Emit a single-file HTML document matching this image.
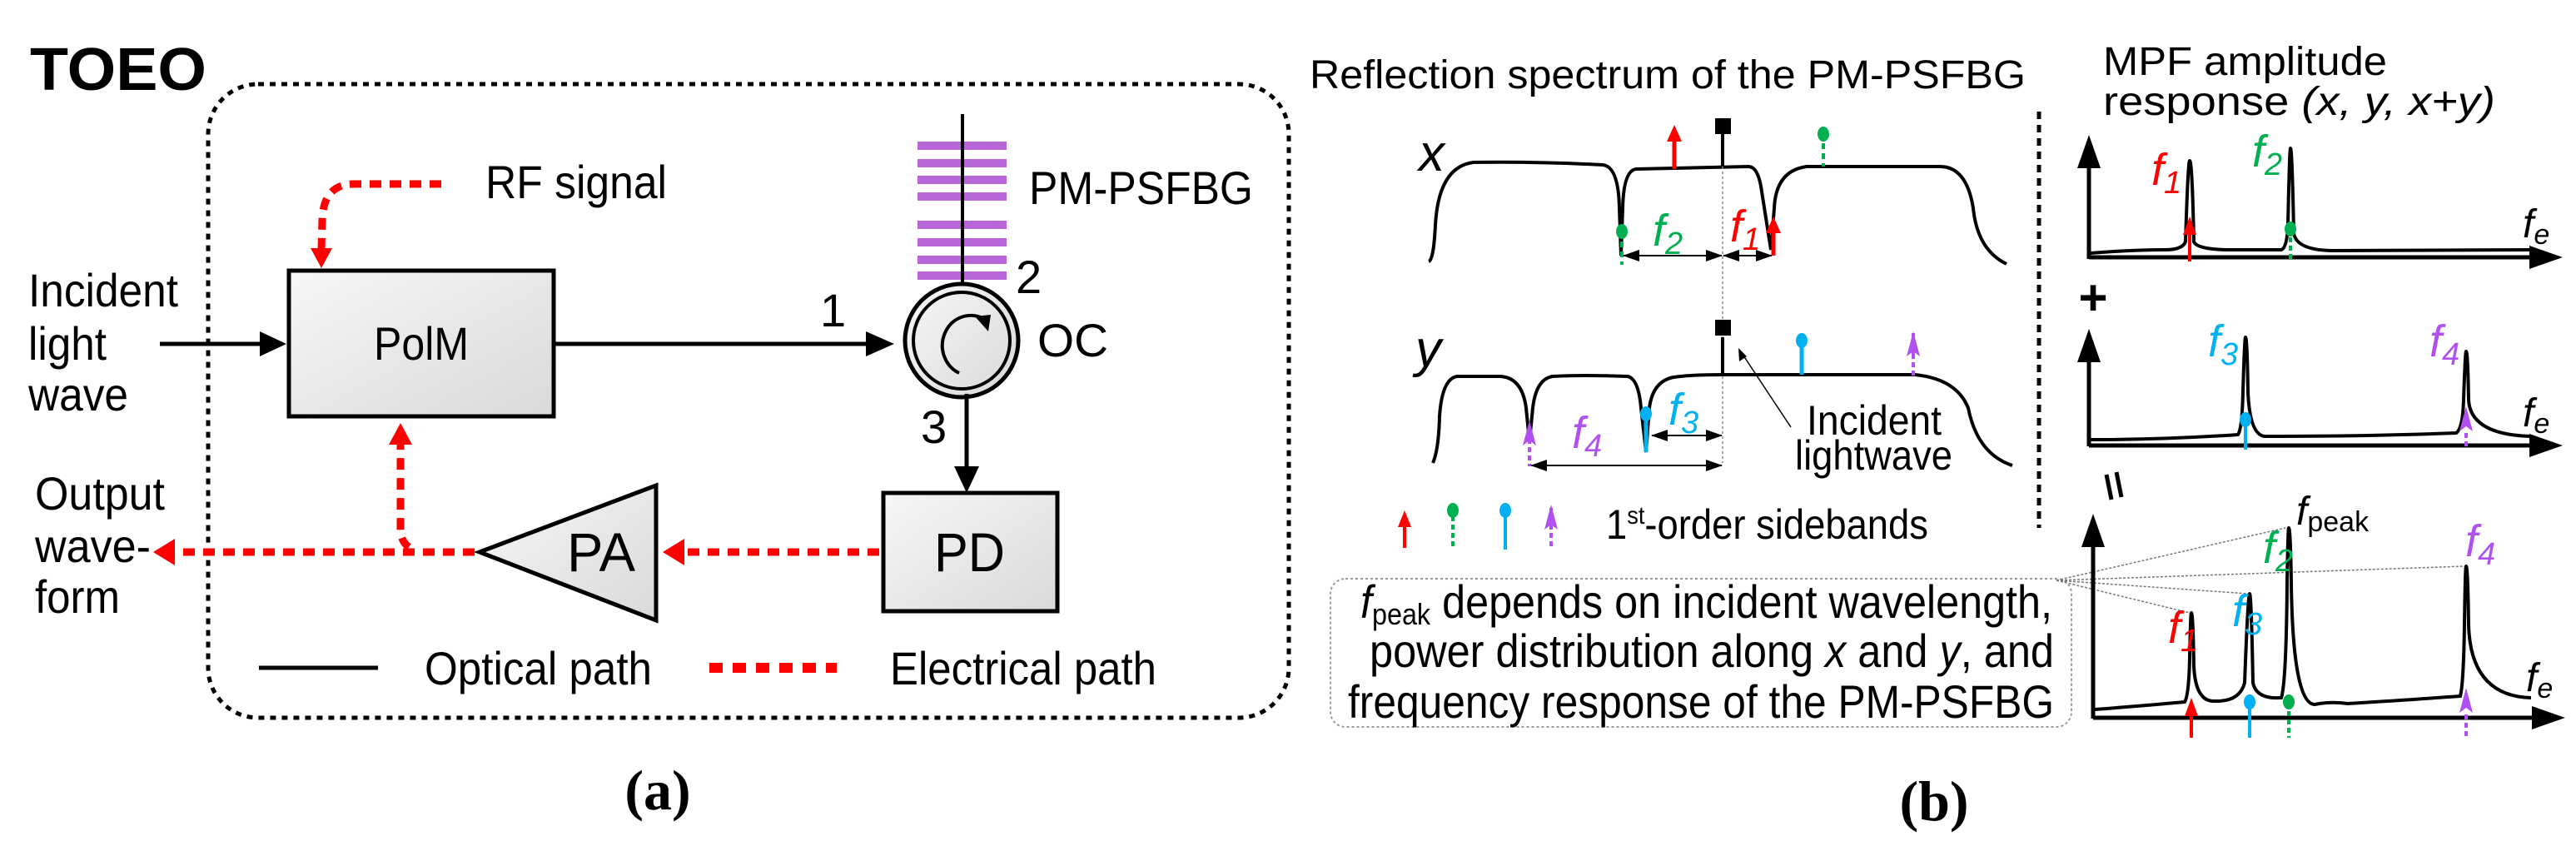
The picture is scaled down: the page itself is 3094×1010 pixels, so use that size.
<!DOCTYPE html>
<html><head><meta charset="utf-8"><style>
html,body{margin:0;padding:0;background:#fff;}
svg{display:block;}
text{font-family:"Liberation Sans",Arial,sans-serif;fill:#000;}
.it{font-style:italic;}
.ser{font-family:"Liberation Serif",serif;font-weight:bold;}
</style></head><body>
<svg width="3094" height="1010" viewBox="0 0 3094 1010" xmlns="http://www.w3.org/2000/svg">
<defs>
<linearGradient id="g" x1="0" y1="0" x2="1" y2="1"><stop offset="0" stop-color="#f7f7f7"/><stop offset="1" stop-color="#d9d9d9"/></linearGradient>
<marker id="dd" markerWidth="20" markerHeight="20" refX="19" refY="10" orient="auto" markerUnits="userSpaceOnUse"><path d="M0,3 L20,10 L0,17 Z" fill="#000"/></marker>
<marker id="ds" markerWidth="20" markerHeight="20" refX="1" refY="10" orient="auto" markerUnits="userSpaceOnUse"><path d="M20,3 L0,10 L20,17 Z" fill="#000"/></marker>
<marker id="ax" markerWidth="40" markerHeight="40" refX="2" refY="20" orient="auto" markerUnits="userSpaceOnUse"><path d="M0,6 L40,20 L0,34 Z" fill="#000"/></marker>
</defs>

<!-- (a) -->
<text x="36" y="108" font-size="72" font-weight="bold" textLength="212" lengthAdjust="spacingAndGlyphs">TOEO</text>
<rect x="250" y="101" width="1298" height="761" rx="60" fill="none" stroke="#000" stroke-width="5" stroke-dasharray="7,7"/>
<text x="583" y="238" font-size="56" textLength="218" lengthAdjust="spacingAndGlyphs">RF signal</text>
<path d="M530,221 L425,221 Q388,221 387,265 L386,300" fill="none" stroke="#f00" stroke-width="9" stroke-dasharray="14,10"/>
<path d="M373,298 L386,322 L399,298 Z" fill="#f00"/>
<rect x="347" y="325" width="318" height="175" fill="url(#g)" stroke="#000" stroke-width="5"/>
<text x="449" y="432" font-size="56" textLength="114" lengthAdjust="spacingAndGlyphs">PolM</text>
<text x="34" y="368" font-size="56" textLength="180" lengthAdjust="spacingAndGlyphs">Incident</text>
<text x="34" y="432" font-size="56" textLength="94" lengthAdjust="spacingAndGlyphs">light</text>
<text x="34" y="493" font-size="56" textLength="120" lengthAdjust="spacingAndGlyphs">wave</text>
<line x1="192" y1="413" x2="318" y2="413" stroke="#000" stroke-width="5"/>
<path d="M312,398 L344,413 L312,428 Z"/>
<line x1="665" y1="413" x2="1046" y2="413" stroke="#000" stroke-width="5"/>
<path d="M1040,398 L1074,413 L1040,428 Z"/>
<text x="985" y="392" font-size="56">1</text>
<g fill="#b865d8"><rect x="1102" y="170" width="107" height="10"/><rect x="1102" y="191" width="107" height="10"/><rect x="1102" y="211" width="107" height="10"/><rect x="1102" y="231" width="107" height="10"/><rect x="1102" y="265" width="107" height="10"/><rect x="1102" y="286" width="107" height="10"/><rect x="1102" y="307" width="107" height="10"/><rect x="1102" y="326" width="107" height="10"/></g>
<line x1="1156" y1="137" x2="1156" y2="345" stroke="#000" stroke-width="4"/>
<text x="1236" y="245" font-size="56" textLength="269" lengthAdjust="spacingAndGlyphs">PM-PSFBG</text>
<text x="1220" y="352" font-size="56">2</text>
<circle cx="1155" cy="409" r="68" fill="url(#g)" stroke="#000" stroke-width="5"/>
<circle cx="1155" cy="409" r="58" fill="none" stroke="#000" stroke-width="4"/>
<path d="M1180,382 A34,36 0 1 0 1152,448" fill="none" stroke="#000" stroke-width="4"/>
<path d="M1171,380 L1190,378 L1187,398 Z"/>
<text x="1246" y="428" font-size="56" textLength="85" lengthAdjust="spacingAndGlyphs">OC</text>
<line x1="1161" y1="473" x2="1161" y2="565" stroke="#000" stroke-width="5"/>
<path d="M1146,560 L1161,592 L1176,560 Z"/>
<text x="1106" y="532" font-size="56">3</text>
<rect x="1061" y="592" width="209" height="142" fill="url(#g)" stroke="#000" stroke-width="5"/>
<text x="1122" y="686" font-size="66" textLength="85" lengthAdjust="spacingAndGlyphs">PD</text>
<line x1="1056" y1="663" x2="820" y2="663" stroke="#f00" stroke-width="9" stroke-dasharray="14,10"/>
<path d="M822,647 L796,663 L822,679 Z" fill="#f00"/>
<path d="M576,663 L788,583 L788,745 Z" fill="url(#g)" stroke="#000" stroke-width="5"/>
<text x="681" y="686" font-size="66" textLength="82" lengthAdjust="spacingAndGlyphs">PA</text>
<line x1="570" y1="663" x2="208" y2="663" stroke="#f00" stroke-width="9" stroke-dasharray="14,10"/>
<path d="M210,647 L184,663 L210,679 Z" fill="#f00"/>
<path d="M491,657 Q481,650 481,635 L481,530" fill="none" stroke="#f00" stroke-width="9" stroke-dasharray="14,10"/>
<path d="M467,534 L481,508 L495,534 Z" fill="#f00"/>
<text x="42" y="612" font-size="56" textLength="156" lengthAdjust="spacingAndGlyphs">Output</text>
<text x="42" y="675" font-size="56" textLength="139" lengthAdjust="spacingAndGlyphs">wave-</text>
<text x="42" y="736" font-size="56" textLength="102" lengthAdjust="spacingAndGlyphs">form</text>
<line x1="311" y1="802" x2="454" y2="802" stroke="#000" stroke-width="5"/>
<text x="510" y="822" font-size="56" textLength="273" lengthAdjust="spacingAndGlyphs">Optical path</text>
<line x1="852" y1="802" x2="1005" y2="802" stroke="#f00" stroke-width="12" stroke-dasharray="16,12"/>
<text x="1069" y="822" font-size="56" textLength="320" lengthAdjust="spacingAndGlyphs">Electrical path</text>
<text x="790" y="972" font-size="68" text-anchor="middle" class="ser">(a)</text>

<!-- (b) -->
<text x="1573" y="106" font-size="48" textLength="860" lengthAdjust="spacingAndGlyphs">Reflection spectrum of the PM-PSFBG</text>
<line x1="2449" y1="134" x2="2449" y2="634" stroke="#000" stroke-width="5" stroke-dasharray="9,7"/>
<text x="2526" y="90" font-size="48" textLength="341" lengthAdjust="spacingAndGlyphs">MPF amplitude</text>
<text x="2526" y="138" font-size="48" textLength="471" lengthAdjust="spacingAndGlyphs">response  <tspan class="it">(x, y, x+y)</tspan></text>

<!-- x spectrum -->
<text x="1704" y="205" font-size="62" class="it">x</text>
<path d="M1716,314 Q1722,312 1724,270 Q1728,200 1770,195 Q1850,194 1925,198 Q1944,200 1945,250 L1947,307 L1949,250 Q1950,205 1965,203 L2100,200 Q2112,200 2116,230 L2127,300 L2131,250 Q2133,205 2170,200 L2330,200 Q2362,200 2370,250 Q2375,300 2410,317" fill="none" stroke="#000" stroke-width="4"/>
<line x1="2069" y1="200" x2="2069" y2="556" stroke="#888" stroke-width="1.5" stroke-dasharray="3,3"/>
<line x1="2069" y1="200" x2="2069" y2="160" stroke="#000" stroke-width="4"/>
<rect x="2060" y="142" width="19" height="19"/>
<line x1="2011" y1="203" x2="2011" y2="165" stroke="#f00" stroke-width="5"/><path d="M2002,170 L2011,150 L2020,170 Z" fill="#f00"/>
<line x1="2190" y1="160" x2="2190" y2="200" stroke="#00b050" stroke-width="4" stroke-dasharray="7,5"/><ellipse cx="2190" cy="161" rx="7" ry="9" fill="#00b050"/>
<line x1="1948" y1="278" x2="1948" y2="318" stroke="#00b050" stroke-width="4" stroke-dasharray="7,5"/><ellipse cx="1948" cy="278" rx="7" ry="9" fill="#00b050"/>
<line x1="2130" y1="307" x2="2130" y2="275" stroke="#f00" stroke-width="5"/><path d="M2121,280 L2130,260 L2139,280 Z" fill="#f00"/>
<line x1="1950" y1="307" x2="2068" y2="307" stroke="#000" stroke-width="2" marker-start="url(#ds)" marker-end="url(#dd)"/>
<line x1="2070" y1="307" x2="2128" y2="307" stroke="#000" stroke-width="2" marker-start="url(#ds)" marker-end="url(#dd)"/>
<text x="1985" y="295" font-size="54" class="it" style="fill:#00b050">f<tspan font-size="38" dy="10">2</tspan></text>
<text x="2078" y="290" font-size="54" class="it" style="fill:#f00">f<tspan font-size="38" dy="10">1</tspan></text>

<!-- y spectrum -->
<text x="1700" y="440" font-size="62" class="it">y</text>
<path d="M1721,556 Q1728,540 1729,500 Q1732,455 1750,452 L1800,452 Q1828,452 1833,490 L1837,530 L1841,490 Q1845,455 1865,452 Q1900,450 1955,452 Q1968,455 1971,490 L1977,543 L1981,490 Q1985,458 2010,453 Q2030,450 2069,450 L2300,450 Q2350,455 2364,490 Q2375,545 2417,559" fill="none" stroke="#000" stroke-width="4"/>
<line x1="2069" y1="450" x2="2069" y2="405" stroke="#000" stroke-width="4"/>
<rect x="2060" y="384" width="19" height="19"/>
<line x1="2164" y1="410" x2="2164" y2="450" stroke="#00b0f0" stroke-width="5"/><ellipse cx="2164" cy="409" rx="7" ry="9" fill="#00b0f0"/>
<line x1="2298" y1="425" x2="2298" y2="451" stroke="#b050f0" stroke-width="4" stroke-dasharray="6,4"/>
<path d="M2298,398 L2290,428 L2298,422 L2306,428 Z" fill="#b050f0"/><line x1="2298" y1="400" x2="2298" y2="425" stroke="#b050f0" stroke-width="4"/>
<line x1="2151" y1="513" x2="2090" y2="421" stroke="#000" stroke-width="1.5"/><path d="M2088,418 L2089,434 L2098,428 Z"/>
<text x="2170" y="522" font-size="50" textLength="162" lengthAdjust="spacingAndGlyphs">Incident</text>
<text x="2156" y="564" font-size="50" textLength="189" lengthAdjust="spacingAndGlyphs">lightwave</text>
<line x1="1977" y1="497" x2="1977" y2="543" stroke="#00b0f0" stroke-width="5"/><ellipse cx="1977" cy="497" rx="7" ry="9" fill="#00b0f0"/>
<line x1="1837" y1="527" x2="1837" y2="560" stroke="#b050f0" stroke-width="4" stroke-dasharray="6,4"/>
<path d="M1837,505 L1829,535 L1837,529 L1845,535 Z" fill="#b050f0"/>
<line x1="1984" y1="523" x2="2068" y2="523" stroke="#000" stroke-width="2" marker-start="url(#ds)" marker-end="url(#dd)"/>
<line x1="1839" y1="559" x2="2068" y2="559" stroke="#000" stroke-width="2" marker-start="url(#ds)" marker-end="url(#dd)"/>
<text x="2004" y="510" font-size="54" class="it" style="fill:#00b0f0">f<tspan font-size="38" dy="10">3</tspan></text>
<text x="1888" y="538" font-size="54" class="it" style="fill:#b050f0">f<tspan font-size="38" dy="10">4</tspan></text>

<!-- legend -->
<line x1="1687" y1="658" x2="1687" y2="630" stroke="#f00" stroke-width="4"/><path d="M1679,633 L1687,613 L1695,633 Z" fill="#f00"/>
<line x1="1745" y1="620" x2="1745" y2="660" stroke="#00b050" stroke-width="4" stroke-dasharray="6,4"/><ellipse cx="1745" cy="613" rx="7" ry="9" fill="#00b050"/>
<line x1="1808" y1="620" x2="1808" y2="660" stroke="#00b0f0" stroke-width="4"/><ellipse cx="1808" cy="613" rx="7" ry="9" fill="#00b0f0"/>
<line x1="1863" y1="630" x2="1863" y2="660" stroke="#b050f0" stroke-width="4" stroke-dasharray="6,4"/><path d="M1863,606 L1855,636 L1863,630 L1871,636 Z" fill="#b050f0"/><line x1="1863" y1="610" x2="1863" y2="632" stroke="#b050f0" stroke-width="4"/>
<text x="1929" y="647" font-size="50" textLength="387" lengthAdjust="spacingAndGlyphs">1<tspan font-size="30" dy="-18">st</tspan><tspan dy="18">-order sidebands</tspan></text>

<!-- note box -->
<rect x="1598" y="695" width="890" height="178" rx="18" fill="none" stroke="#999" stroke-width="2" stroke-dasharray="3,3"/>
<text x="1634" y="742" font-size="56" textLength="831" lengthAdjust="spacingAndGlyphs"><tspan class="it">f</tspan><tspan font-size="36" dy="8">peak</tspan><tspan dy="-8"> depends on incident wavelength,</tspan></text>
<text x="1645" y="801" font-size="56" textLength="822" lengthAdjust="spacingAndGlyphs">power distribution along <tspan class="it">x</tspan> and <tspan class="it">y</tspan>, and</text>
<text x="1619" y="862" font-size="56" textLength="848" lengthAdjust="spacingAndGlyphs">frequency response of the PM-PSFBG</text>
<g stroke="#777" stroke-width="1.5" stroke-dasharray="3,2">
<line x1="2470" y1="697" x2="2745" y2="634"/><line x1="2470" y1="697" x2="2960" y2="680"/><line x1="2470" y1="697" x2="2700" y2="713"/><line x1="2470" y1="697" x2="2630" y2="736"/></g>

<!-- plot 1 -->
<line x1="2509" y1="311" x2="2509" y2="200" stroke="#000" stroke-width="5" marker-end="url(#ax)"/>
<line x1="2509" y1="309" x2="3040" y2="309" stroke="#000" stroke-width="5" marker-end="url(#ax)"/>
<path d="M2511,304 Q2560,300 2600,300 Q2622,300 2625,290 Q2628,193 2630,193 Q2633,193 2635,290 Q2638,300 2680,300 L2740,300 Q2747,298 2748,270 Q2750,178 2751,178 Q2753,178 2755,280 Q2758,300 2800,301 L3040,300" fill="none" stroke="#000" stroke-width="4"/>
<line x1="2630" y1="314" x2="2630" y2="278" stroke="#f00" stroke-width="4"/><path d="M2622,282 L2630,260 L2638,282 Z" fill="#f00"/>
<line x1="2751" y1="275" x2="2751" y2="312" stroke="#00b050" stroke-width="4" stroke-dasharray="6,4"/><ellipse cx="2751" cy="275" rx="7" ry="9" fill="#00b050"/>
<text x="2584" y="222" font-size="54" class="it" style="fill:#f00">f<tspan font-size="38" dy="10">1</tspan></text>
<text x="2705" y="200" font-size="54" class="it" style="fill:#00b050">f<tspan font-size="38" dy="10">2</tspan></text>
<text x="3030" y="285" font-size="48" class="it">f<tspan font-size="34" dy="8">e</tspan></text>
<text x="2514" y="378" font-size="60" font-weight="bold" text-anchor="middle">+</text>

<!-- plot 2 -->
<line x1="2509" y1="536" x2="2509" y2="433" stroke="#000" stroke-width="5" marker-end="url(#ax)"/>
<line x1="2509" y1="535" x2="3040" y2="535" stroke="#000" stroke-width="5" marker-end="url(#ax)"/>
<path d="M2511,528 Q2600,528 2688,522 Q2693,515 2694,470 Q2696,405 2697,405 Q2699,405 2700,470 Q2702,522 2720,524 Q2850,524 2950,520 Q2958,515 2959,480 Q2961,422 2962,422 Q2964,422 2965,480 Q2967,522 3040,524" fill="none" stroke="#000" stroke-width="4"/>
<line x1="2697" y1="504" x2="2697" y2="540" stroke="#00b0f0" stroke-width="4"/><ellipse cx="2697" cy="504" rx="7" ry="9" fill="#00b0f0"/>
<line x1="2962" y1="520" x2="2962" y2="540" stroke="#b050f0" stroke-width="4" stroke-dasharray="6,4"/><path d="M2962,488 L2954,518 L2962,512 L2970,518 Z" fill="#b050f0"/>
<text x="2652" y="428" font-size="54" class="it" style="fill:#00b0f0">f<tspan font-size="38" dy="10">3</tspan></text>
<text x="2918" y="428" font-size="54" class="it" style="fill:#b050f0">f<tspan font-size="38" dy="10">4</tspan></text>
<text x="3030" y="512" font-size="48" class="it">f<tspan font-size="34" dy="8">e</tspan></text>
<g stroke="#000" stroke-width="5"><line x1="2530" y1="570" x2="2536" y2="600"/><line x1="2542" y1="567" x2="2548" y2="597"/></g>

<!-- plot 3 -->
<line x1="2514" y1="863" x2="2514" y2="655" stroke="#000" stroke-width="5" marker-end="url(#ax)"/>
<line x1="2514" y1="862" x2="3043" y2="862" stroke="#000" stroke-width="5" marker-end="url(#ax)"/>
<path d="M2516,852 Q2570,848 2624,843 Q2629,835 2630,790 Q2631,736 2632,736 Q2634,736 2635,800 Q2637,843 2660,842 Q2690,843 2696,820 Q2700,713 2702,713 Q2704,713 2706,820 Q2710,840 2740,838 Q2746,820 2747,700 Q2748,634 2749,634 Q2751,634 2752,700 Q2754,845 2780,846 Q2800,842 2820,845 Q2900,840 2955,836 Q2959,820 2960,750 Q2961,680 2962,680 Q2964,680 2965,750 Q2967,836 3040,838" fill="none" stroke="#000" stroke-width="4"/>
<line x1="2632" y1="886" x2="2632" y2="858" stroke="#f00" stroke-width="4"/><path d="M2624,860 L2632,838 L2640,860 Z" fill="#f00"/>
<line x1="2702" y1="844" x2="2702" y2="886" stroke="#00b0f0" stroke-width="4"/><ellipse cx="2702" cy="843" rx="7" ry="9" fill="#00b0f0"/>
<line x1="2749" y1="844" x2="2749" y2="886" stroke="#00b050" stroke-width="4" stroke-dasharray="6,4"/><ellipse cx="2749" cy="843" rx="7" ry="9" fill="#00b050"/>
<line x1="2962" y1="858" x2="2962" y2="886" stroke="#b050f0" stroke-width="4" stroke-dasharray="6,4"/><path d="M2962,826 L2954,856 L2962,850 L2970,856 Z" fill="#b050f0"/>
<text x="2604" y="772" font-size="54" class="it" style="fill:#f00">f<tspan font-size="38" dy="10">1</tspan></text>
<text x="2681" y="752" font-size="54" class="it" style="fill:#00b0f0">f<tspan font-size="38" dy="10">3</tspan></text>
<text x="2718" y="676" font-size="54" class="it" style="fill:#00b050">f<tspan font-size="38" dy="10">2</tspan></text>
<text x="2758" y="630" font-size="48" class="it">f<tspan font-size="34" dy="8" font-style="normal">peak</tspan></text>
<text x="2961" y="668" font-size="54" class="it" style="fill:#b050f0">f<tspan font-size="38" dy="10">4</tspan></text>
<text x="3034" y="830" font-size="48" class="it">f<tspan font-size="34" dy="8">e</tspan></text>
<text x="2323" y="985" font-size="68" text-anchor="middle" class="ser">(b)</text>
</svg>
</body></html>
